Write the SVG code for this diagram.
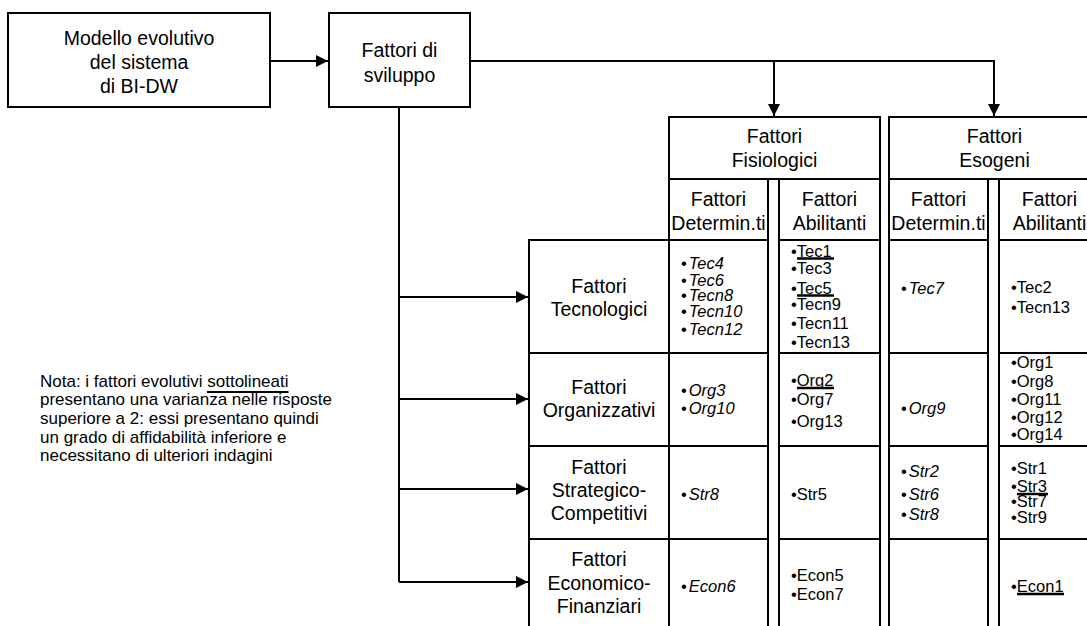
<svg xmlns="http://www.w3.org/2000/svg" width="1087" height="626" viewBox="0 0 1087 626">
<style>
.box{fill:#fff;stroke:#000;stroke-width:2}
.t{font-family:"Liberation Sans",Arial,sans-serif;font-size:19.5px;fill:#000;text-anchor:middle}
.c{font-family:"Liberation Sans",Arial,sans-serif;font-size:16.5px;fill:#000}
.n{font-family:"Liberation Sans",Arial,sans-serif;font-size:17px;fill:#000}
.i{font-style:italic}
.conn{stroke:#000;stroke-width:2;fill:none}
.ul{stroke:#000;stroke-width:2.5}
</style>
<defs>
<marker id="ah" viewBox="0 0 12 12" refX="12" refY="6" markerWidth="12" markerHeight="12" markerUnits="userSpaceOnUse" orient="auto">
<path d="M0,0 L12,6 L0,12 z" fill="#000"/>
</marker>
</defs>
<rect width="1087" height="626" fill="#fff"/>

<g id="connectors">
<path class="conn" d="M270,61 H328" marker-end="url(#ah)"/>
<path class="conn" d="M470,61 H994 V116" marker-end="url(#ah)"/>
<path class="conn" d="M774,61 V116" marker-end="url(#ah)"/>
<path class="conn" d="M399,107 V582"/>
<path class="conn" d="M399,297 H528" marker-end="url(#ah)"/>
<path class="conn" d="M399,399 H528" marker-end="url(#ah)"/>
<path class="conn" d="M399,489 H528" marker-end="url(#ah)"/>
<path class="conn" d="M399,582 H528" marker-end="url(#ah)"/>
</g>

<g id="modello">
<rect class="box" x="8" y="13" width="262" height="94"/>
<text class="t" x="139" y="45">Modello evolutivo</text>
<text class="t" x="139" y="69">del sistema</text>
<text class="t" x="139" y="93">di BI-DW</text>
</g>

<g id="sviluppo">
<rect class="box" x="329" y="13" width="141" height="94"/>
<text class="t" x="399.5" y="57">Fattori di</text>
<text class="t" x="399.5" y="82">sviluppo</text>
</g>

<g id="fisiologici">
<rect class="box" x="669" y="117" width="211" height="62"/>
<text class="t" x="774.5" y="143">Fattori</text>
<text class="t" x="774.5" y="167">Fisiologici</text>
</g>

<g id="esogeni">
<rect class="box" x="889" y="117" width="211" height="62"/>
<text class="t" x="994.5" y="143">Fattori</text>
<text class="t" x="994.5" y="167">Esogeni</text>
</g>

<g id="fis-determinanti">
<rect class="box" x="669" y="179" width="99" height="61"/>
<text class="t" x="718.5" y="206">Fattori</text>
<text class="t" x="718.5" y="230">Determin.ti</text>
<rect class="box" x="669" y="240" width="99" height="113"/>
<rect class="box" x="669" y="353" width="99" height="93"/>
<rect class="box" x="669" y="446" width="99" height="93"/>
<rect class="box" x="669" y="539" width="99" height="100"/>
<text class="c" x="681" y="269">•<tspan class="i" dx="2">Tec4</tspan></text>
<text class="c" x="681" y="285.5">•<tspan class="i" dx="2">Tec6</tspan></text>
<text class="c" x="681" y="301">•<tspan class="i" dx="2">Tecn8</tspan></text>
<text class="c" x="681" y="317">•<tspan class="i" dx="2">Tecn10</tspan></text>
<text class="c" x="681" y="335">•<tspan class="i" dx="2">Tecn12</tspan></text>
<text class="c" x="681" y="396">•<tspan class="i" dx="2">Org3</tspan></text>
<text class="c" x="681" y="414">•<tspan class="i" dx="2">Org10</tspan></text>
<text class="c" x="681" y="500">•<tspan class="i" dx="2">Str8</tspan></text>
<text class="c" x="681" y="592">•<tspan class="i" dx="2">Econ6</tspan></text>
</g>

<g id="fis-abilitanti">
<rect class="box" x="779" y="179" width="101" height="61"/>
<text class="t" x="829.5" y="206">Fattori</text>
<text class="t" x="829.5" y="230">Abilitanti</text>
<rect class="box" x="779" y="240" width="101" height="113"/>
<rect class="box" x="779" y="353" width="101" height="93"/>
<rect class="box" x="779" y="446" width="101" height="93"/>
<rect class="box" x="779" y="539" width="101" height="100"/>
<text class="c" x="791" y="256.5">•Tec1</text>
<line class="ul" x1="797" y1="258.5" x2="834" y2="258.5"/>
<text class="c" x="791" y="274">•Tec3</text>
<text class="c" x="791" y="293.5">•Tec5</text>
<line class="ul" x1="797" y1="295.5" x2="834" y2="295.5"/>
<text class="c" x="791" y="310">•Tecn9</text>
<text class="c" x="791" y="329">•Tecn11</text>
<text class="c" x="791" y="348">•Tecn13</text>
<text class="c" x="791" y="386">•Org2</text>
<line class="ul" x1="797" y1="388" x2="834" y2="388"/>
<text class="c" x="791" y="405">•Org7</text>
<text class="c" x="791" y="426.5">•Org13</text>
<text class="c" x="791" y="500">•Str5</text>
<text class="c" x="791" y="581">•Econ5</text>
<text class="c" x="791" y="600">•Econ7</text>
</g>

<g id="eso-determinanti">
<rect class="box" x="889" y="179" width="99" height="61"/>
<text class="t" x="938.5" y="206">Fattori</text>
<text class="t" x="938.5" y="230">Determin.ti</text>
<rect class="box" x="889" y="240" width="99" height="113"/>
<rect class="box" x="889" y="353" width="99" height="93"/>
<rect class="box" x="889" y="446" width="99" height="93"/>
<rect class="box" x="889" y="539" width="99" height="100"/>
<text class="c" x="901" y="294">•<tspan class="i" dx="2">Tec7</tspan></text>
<text class="c" x="901" y="414">•<tspan class="i" dx="2">Org9</tspan></text>
<text class="c" x="901" y="477">•<tspan class="i" dx="2">Str2</tspan></text>
<text class="c" x="901" y="500">•<tspan class="i" dx="2">Str6</tspan></text>
<text class="c" x="901" y="520">•<tspan class="i" dx="2">Str8</tspan></text>
</g>

<g id="eso-abilitanti">
<rect class="box" x="999" y="179" width="101" height="61"/>
<text class="t" x="1049.5" y="206">Fattori</text>
<text class="t" x="1049.5" y="230">Abilitanti</text>
<rect class="box" x="999" y="240" width="101" height="113"/>
<rect class="box" x="999" y="353" width="101" height="93"/>
<rect class="box" x="999" y="446" width="101" height="93"/>
<rect class="box" x="999" y="539" width="101" height="100"/>
<text class="c" x="1011" y="293">•Tec2</text>
<text class="c" x="1011" y="313">•Tecn13</text>
<text class="c" x="1011" y="368">•Org1</text>
<text class="c" x="1011" y="386.5">•Org8</text>
<text class="c" x="1011" y="405">•Org11</text>
<text class="c" x="1011" y="423">•Org12</text>
<text class="c" x="1011" y="440">•Org14</text>
<text class="c" x="1011" y="474">•Str1</text>
<text class="c" x="1011" y="492">•Str3</text>
<line class="ul" x1="1017" y1="494" x2="1048" y2="494"/>
<text class="c" x="1011" y="507">•Str7</text>
<text class="c" x="1011" y="523">•Str9</text>
<text class="c" x="1011" y="592">•Econ1</text>
<line class="ul" x1="1017" y1="594" x2="1064" y2="594"/>
</g>

<g id="tecnologici">
<rect class="box" x="529" y="240" width="140" height="113"/>
<text class="t" x="599" y="293">Fattori</text>
<text class="t" x="599" y="316">Tecnologici</text>
</g>

<g id="organizzativi">
<rect class="box" x="529" y="353" width="140" height="93"/>
<text class="t" x="599" y="394">Fattori</text>
<text class="t" x="599" y="417">Organizzativi</text>
</g>

<g id="strategico">
<rect class="box" x="529" y="446" width="140" height="93"/>
<text class="t" x="599" y="474">Fattori</text>
<text class="t" x="599" y="497">Strategico-</text>
<text class="t" x="599" y="520">Competitivi</text>
</g>

<g id="economico">
<rect class="box" x="529" y="539" width="140" height="100"/>
<text class="t" x="599" y="566">Fattori</text>
<text class="t" x="599" y="590">Economico-</text>
<text class="t" x="599" y="613">Finanziari</text>
</g>

<g id="nota">
<text class="n" x="40" y="387">Nota: i fattori evolutivi sottolineati</text>
<line x1="207" y1="392" x2="288.5" y2="392" stroke="#000" stroke-width="2"/>
<text class="n" x="40" y="405">presentano una varianza nelle risposte</text>
<text class="n" x="40" y="424">superiore a 2: essi presentano quindi</text>
<text class="n" x="40" y="443">un grado di affidabilità inferiore e</text>
<text class="n" x="40" y="461">necessitano di ulteriori indagini</text>
</g>
</svg>
